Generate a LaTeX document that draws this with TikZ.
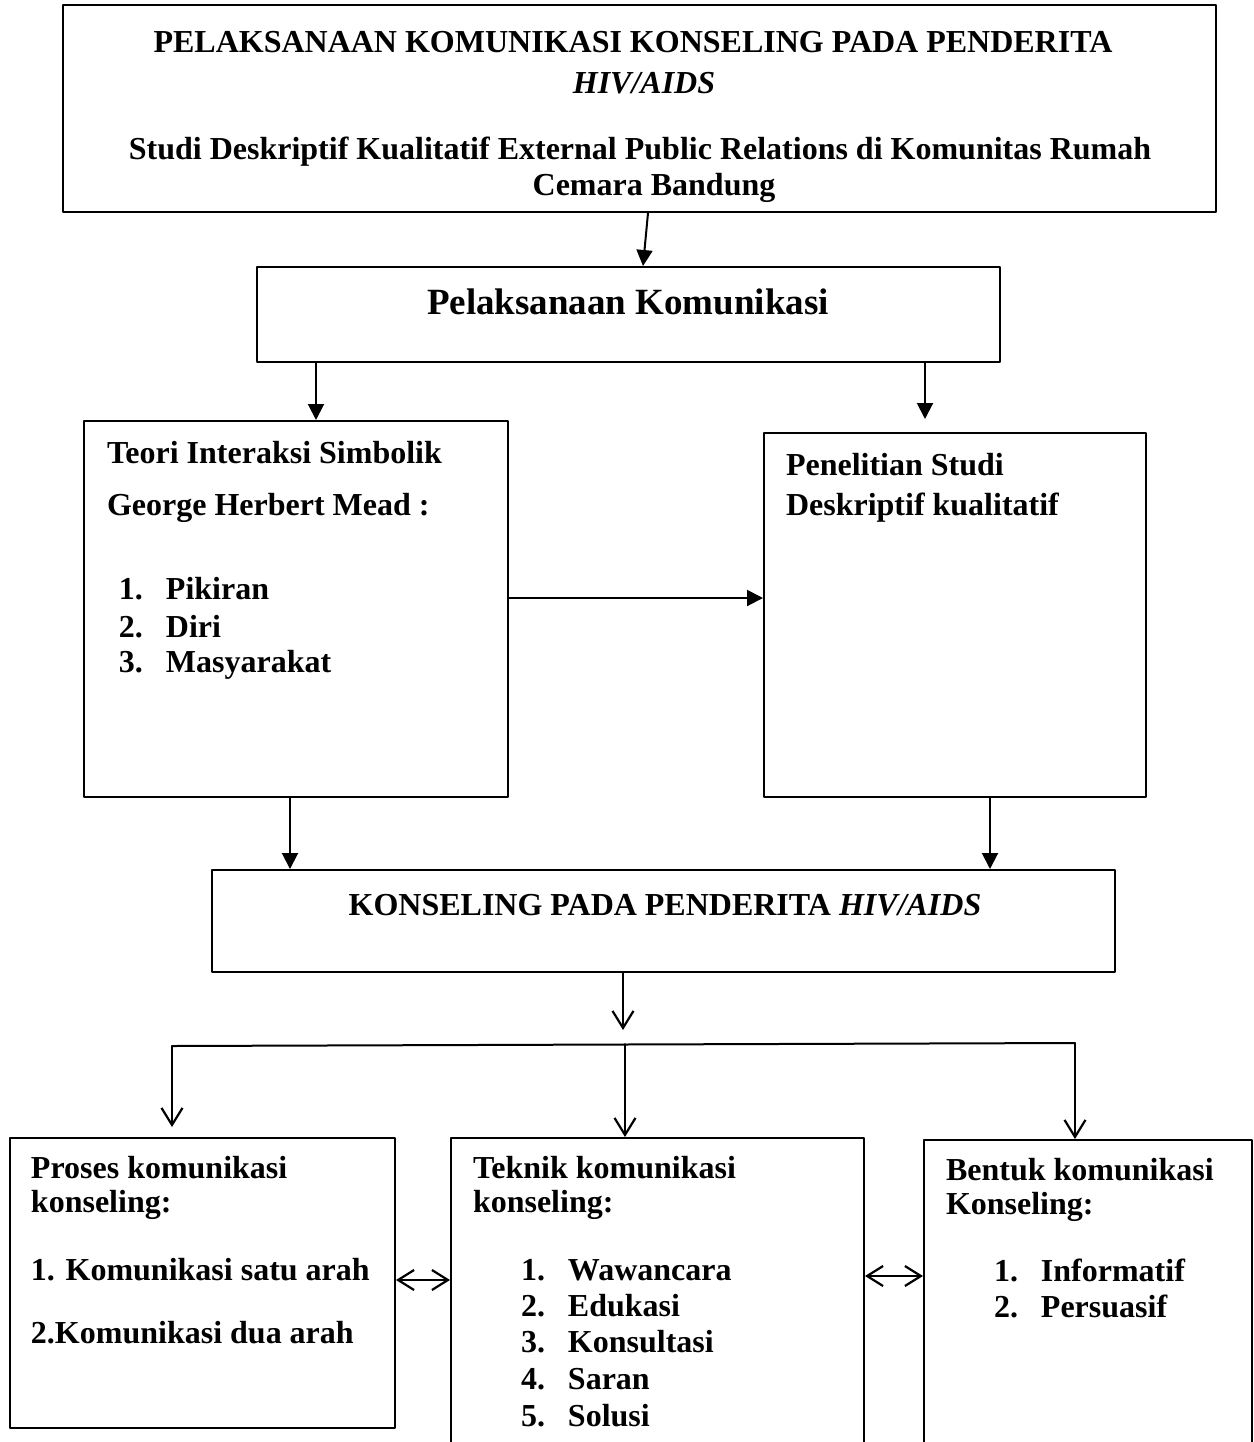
\documentclass[tikz,border=0pt]{standalone}
\usepackage{fontspec}
\setmainfont{Liberation Serif}
\usepackage{tikz}
\usetikzlibrary{arrows.meta}

\newcommand{\itm}[2]{\makebox[23.5pt][l]{#1}#2}

\begin{document}
\begin{tikzpicture}[line cap=round,line join=round,x=0.5pt,y=-0.5pt,
  box/.style={draw,line width=1pt,rectangle,inner sep=0pt},
  txt/.style={inner sep=0pt,font=\bfseries\fontsize{16}{19}\selectfont},
  lft/.style={txt,anchor=west},
  tri/.style={-{Triangle[length=8pt,width=8pt]}},
  vee/.style={-{Straight Barb[length=8.5pt,width=10.5pt,line width=1.1pt]}},
  vv/.style={{Straight Barb[length=8pt,width=10pt,line width=1.1pt]}-{Straight Barb[length=8pt,width=10pt,line width=1.1pt]}},
  line width=1pt]
\useasboundingbox (0,0) rectangle (1254,1442);
\clip (0,0) rectangle (1254,1442);
% boxes
\node[box,minimum width=576.5pt,minimum height=103.5pt] (title) at (639.5,108.5) {};
\node[box,minimum width=371.5pt,minimum height=47.5pt] (komunikasi) at (628.5,314.5) {};
\node[box,minimum width=212pt,minimum height=188pt] (teori) at (296,609) {};
\node[box,minimum width=191pt,minimum height=182pt] (penelitian) at (955,615) {};
\node[box,minimum width=451.5pt,minimum height=51pt] (konseling) at (663.5,921) {};
\node[box,minimum width=192.5pt,minimum height=145pt] (proses) at (202.5,1283) {};
\node[box,minimum width=206.5pt,minimum height=166pt] (teknik) at (657.5,1304) {};
\node[box,minimum width=164pt,minimum height=165pt] (bentuk) at (1088,1305) {};
% texts
\node[txt] (t1) at (633,42) {PELAKSANAAN KOMUNIKASI KONSELING PADA PENDERITA};
\node[txt] (t2) at (644,83) {\textit{HIV/AIDS}};
\node[txt] (t3) at (640,152) {Studi Deskriptif Kualitatif External Public Relations di Komunitas Rumah};
\node[txt] (t4) at (654,188) {Cemara Bandung};
\node[txt,font=\bfseries\fontsize{18.5}{22}\selectfont] (k1) at (628,302) {Pelaksanaan Komunikasi};
\node[lft] (a1) at (106,453) {Teori Interaksi Simbolik};
\node[lft] (a2) at (106,508) {George Herbert Mead :};
\node[lft] (a3) at (118,589) {\itm{1.}{Pikiran}};
\node[lft] (a4) at (118,627) {\itm{2.}{Diri}};
\node[lft] (a5) at (118,665) {\itm{3.}{Masyarakat}};
\node[lft] (b1) at (785,465) {Penelitian Studi};
\node[lft] (b2) at (785,508) {Deskriptif kualitatif};
\node[txt] (c1) at (665,905) {KONSELING PADA PENDERITA \textit{HIV/AIDS}};
\node[lft] (p1) at (30,1168) {Proses komunikasi};
\node[lft] (p2) at (30,1205) {konseling:};
\node[lft] (p3) at (30,1270) {1. Komunikasi satu arah};
\node[lft] (p4) at (30,1333) {2.Komunikasi dua arah};
\node[lft] (q1) at (472,1168) {Teknik komunikasi};
\node[lft] (q2) at (472,1205) {konseling:};
\node[lft] (q3) at (520,1270) {\itm{1.}{Wawancara}};
\node[lft] (q4) at (520,1306) {\itm{2.}{Edukasi}};
\node[lft] (q5) at (520,1342) {\itm{3.}{Konsultasi}};
\node[lft] (q6) at (520,1379) {\itm{4.}{Saran}};
\node[lft] (q7) at (520,1416) {\itm{5.}{Solusi}};
\node[lft] (r1) at (945,1170) {Bentuk komunikasi};
\node[lft] (r2) at (945,1207) {Konseling:};
\node[lft] (r3) at (993,1270) {\itm{1.}{Informatif}};
\node[lft] (r4) at (993,1306) {\itm{2.}{Persuasif}};
% connectors
\coordinate (split) at (623,1030);
\coordinate (barL) at (172,1046);
\coordinate (barR) at (1075,1043);
\draw[tri] (648,0 |- title.south) -- (643,0 |- komunikasi.north);
\draw[tri] (316,0 |- komunikasi.south) -- (316,0 |- teori.north);
\draw[tri,shorten >=6.5pt] (925,0 |- komunikasi.south) -- (925,0 |- penelitian.north);
\draw[tri] (teori.east |- 0,598) -- (penelitian.west |- 0,598);
\draw[tri] (290,0 |- teori.south) -- (290,0 |- konseling.north);
\draw[tri] (990,0 |- penelitian.south) -- (990,0 |- konseling.north);
\draw[vee] (623,0 |- konseling.south) -- (split);
\draw (barL) -- (barR);
\draw[vee,shorten >=5pt] (barL) -- (172,0 |- proses.north);
\draw[vee] (625,1044) -- (625,0 |- teknik.north);
\draw[vee] (barR) -- (1075,0 |- bentuk.north);
\draw[vv] (proses.east |- 0,1280) -- (teknik.west |- 0,1280);
\draw[vv] (teknik.east |- 0,1276) -- (bentuk.west |- 0,1276);
\end{tikzpicture}
\end{document}
